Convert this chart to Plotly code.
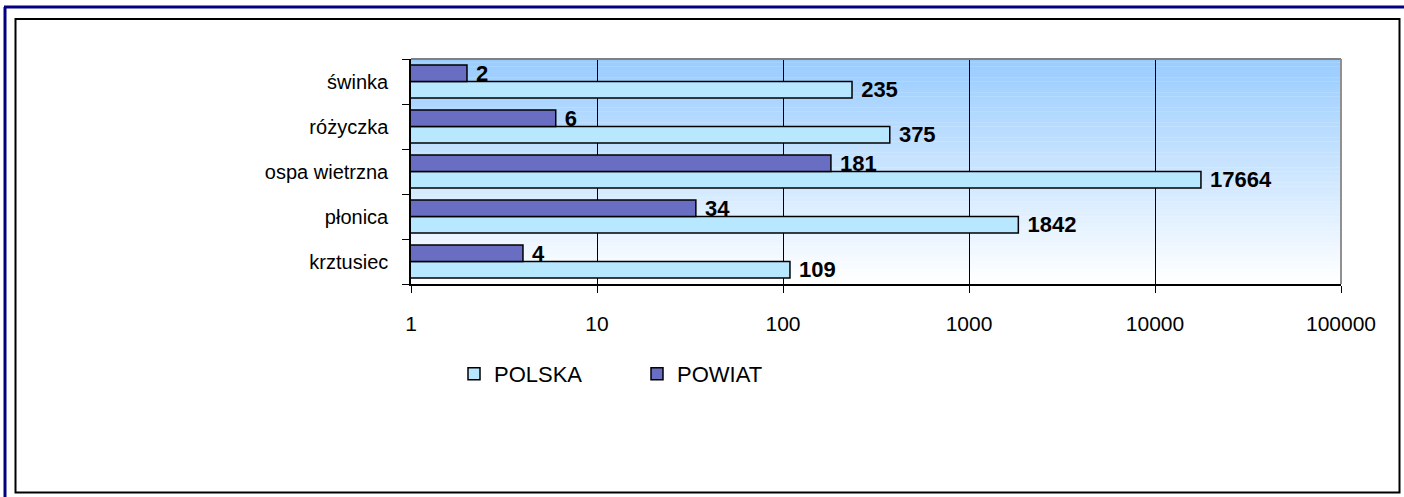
import plotly.graph_objects as go

W, H = 1404, 497

categories = ["krztusiec", "płonica", "ospa wietrzna", "różyczka", "świnka"]
polska = [109, 1842, 17664, 375, 235]
powiat = [4, 34, 181, 6, 2]
tick_vals = [1, 10, 100, 1000, 10000, 100000]
tick_text = ["1", "10", "100", "1000", "10000", "100000"]

PL, PR, PT, PB = 411, 1341, 59, 284

lab_font = dict(family="Liberation Sans, Arial", size=22, color="black", weight="bold")

fig = go.Figure()
fig.add_trace(go.Bar(
    name="POLSKA", y=categories, x=polska, orientation="h",
    marker=dict(color="#B8E8FF", line=dict(color="black", width=1.5)),
    text=[str(v) for v in polska], texttemplate=" %{text}", textposition="outside",
    textfont=lab_font, constraintext="none", cliponaxis=False,
))
fig.add_trace(go.Bar(
    name="POWIAT", y=categories, x=powiat, orientation="h",
    marker=dict(color="#6A6EC2", line=dict(color="black", width=1.5)),
    text=[str(v) for v in powiat], texttemplate=" %{text}", textposition="outside",
    textfont=lab_font, constraintext="none", cliponaxis=False,
))

shapes = []
N = 60
top = (153, 204, 255)
bot = (255, 255, 255)
for i in range(N):
    t = i / (N - 1)
    c = tuple(round(top[k] + (bot[k] - top[k]) * t) for k in range(3))
    shapes.append(dict(type="rect", xref="x domain", yref="y domain",
                       x0=0, x1=1, y0=1 - (i + 1) / N, y1=1 - i / N + 0.001,
                       fillcolor="rgb(%d,%d,%d)" % c, line=dict(width=0), layer="below"))
shapes.append(dict(type="line", xref="x domain", yref="y domain", x0=0, x1=1, y0=1, y1=1,
                   line=dict(color="#808080", width=2)))
shapes.append(dict(type="line", xref="x domain", yref="y domain", x0=1, x1=1, y0=0, y1=1,
                   line=dict(color="#909090", width=2)))

# "paper" coords for shapes/legend are relative to the plot area
def px(x):
    return (x - PL) / (PR - PL)

def py(y):
    return (PB - y) / (PB - PT)

shapes.append(dict(type="line", xref="paper", yref="paper", x0=px(4), x1=px(1410), y0=py(7), y1=py(7),
                   line=dict(color="#000080", width=3)))
shapes.append(dict(type="line", xref="paper", yref="paper", x0=px(5), x1=px(5), y0=py(7), y1=py(500),
                   line=dict(color="#000080", width=3)))
shapes.append(dict(type="rect", xref="paper", yref="paper", x0=px(15.5), x1=px(1399.5), y0=py(492.5), y1=py(19),
                   line=dict(color="black", width=2), fillcolor="rgba(0,0,0,0)"))

fig.update_layout(
    width=W, height=H,
    margin=dict(l=PL, r=W - PR, t=PT, b=H - PB),
    paper_bgcolor="white", plot_bgcolor="white",
    barmode="group", bargap=0.27, bargroupgap=0.0,
    font=dict(family="Liberation Sans, Arial", size=17, color="black"),
    showlegend=True,
    legend=dict(orientation="h", x=px(454), y=py(374), xanchor="left", yanchor="middle",
                font=dict(size=22), traceorder="normal", entrywidth=138,
                bgcolor="rgba(0,0,0,0)"),
    shapes=shapes,
    xaxis=dict(type="log", range=[0, 5], tickvals=tick_vals, ticktext=tick_text,
               showgrid=True, gridcolor="black", gridwidth=1,
               showline=True, linecolor="black", linewidth=1.5,
               ticks="outside", ticklen=7, tickcolor="black",
               ticklabelstandoff=13, tickfont=dict(size=21), zeroline=False),
    yaxis=dict(type="category", categoryorder="array", categoryarray=categories,
               showgrid=False, showline=True, linecolor="black", linewidth=1.5,
               ticks="outside", ticklen=7, tickcolor="black", tickson="boundaries",
               ticklabelstandoff=17, tickfont=dict(size=20)),
)

fig.write_html("out.html", config={"displayModeBar": False},
               post_script="document.body.style.margin='0px';")
